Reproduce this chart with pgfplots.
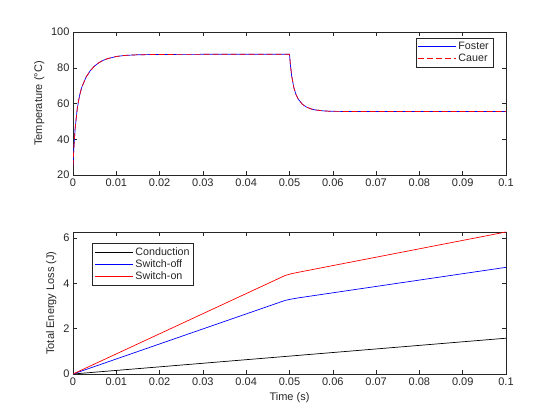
\documentclass[border=0pt]{standalone}
\usepackage{fontspec}
\setmainfont{Liberation Sans}
\usepackage{pgfplots}
\pgfplotsset{compat=1.18}
\definecolor{axgray}{rgb}{0.15,0.15,0.15}
\pgfplotstableread{
t T
0 25
0.0002 35.2
0.0005 46.2
0.001 57.5
0.0015 64.3
0.002 68.9
0.003 74.7
0.004 78.4
0.005 81.0
0.006 82.85
0.007 84.2
0.008 85.1
0.010 86.3
0.012 86.9
0.015 87.27
0.020 87.45
0.030 87.5
0.050 87.5
0.0502 81.75
0.0505 75.47
0.051 68.9
0.0515 65.0
0.052 62.5
0.053 59.5
0.054 57.9
0.055 56.94
0.056 56.38
0.058 55.82
0.060 55.62
0.065 55.51
0.100 55.5
}\tempdata
\pgfplotstableread{
t E
0 0
0.1 1.58
}\conddata
\pgfplotstableread{
t E
0 0
0.049 3.25
0.0505 3.31
0.052 3.36
0.1 4.71
}\offdata
\pgfplotstableread{
t E
0 0
0.049 4.35
0.0505 4.43
0.052 4.49
0.1 6.27
}\ondata
\pgfplotsset{
  mstyle/.style={
    scale only axis, width=433bp,
    xmin=0, xmax=0.1,
    xtick={0,0.01,0.02,0.03,0.04,0.05,0.06,0.07,0.08,0.09,0.1},
    xticklabels={0,0.01,0.02,0.03,0.04,0.05,0.06,0.07,0.08,0.09,0.1},
    tick pos=both, tick align=inside, major tick length=4bp,
    axis line style={axgray, line width=0.5bp},
    every tick/.style={axgray, line width=0.5bp},
    tick label style={font=\fontsize{11bp}{12bp}\selectfont, text=axgray},
    label style={font=\fontsize{11bp}{12bp}\selectfont, text=axgray},
    /pgf/number format/assume math mode=true,
    legend style={font=\fontsize{10.7bp}{12bp}\selectfont, draw=axgray, line width=0.5bp, text=axgray,
      inner sep=2bp, row sep=-1bp},
    legend cell align=left,
    legend image code/.code={\draw[#1, line width=0.7bp] (0bp,0bp) -- (38bp,0bp);},
    every axis plot/.append style={line width=0.7bp},
  }
}
\begin{document}
\begin{tikzpicture}
\path[use as bounding box] (0,0) rectangle (560bp,420bp);
\begin{axis}[mstyle, at={(73bp,245bp)}, anchor=south west, height=143bp,
  ymin=20, ymax=100, ytick={20,40,60,80,100},
  ylabel={Temperature (°C)},
  legend style={at={(0.97,0.96)}, anchor=north east}]
\addplot[blue, solid] table[x=t, y=T] {\tempdata};
\addlegendentry{Foster}
\addplot[red, dashed, dash pattern=on 6bp off 3bp] table[x=t, y=T] {\tempdata};
\addlegendentry{Cauer}
\end{axis}
\begin{axis}[mstyle, at={(73bp,46bp)}, anchor=south west, height=142bp,
  ymin=0, ymax=6.27, ytick={0,2,4,6},
  ylabel={Total Energy Loss (J)}, xlabel={Time (s)},
  legend style={at={(0.045,0.92)}, anchor=north west}]
\addplot[black] table[x=t, y=E] {\conddata};
\addlegendentry{Conduction}
\addplot[blue] table[x=t, y=E] {\offdata};
\addlegendentry{Switch-off}
\addplot[red] table[x=t, y=E] {\ondata};
\addlegendentry{Switch-on}
\end{axis}
\end{tikzpicture}
\end{document}
